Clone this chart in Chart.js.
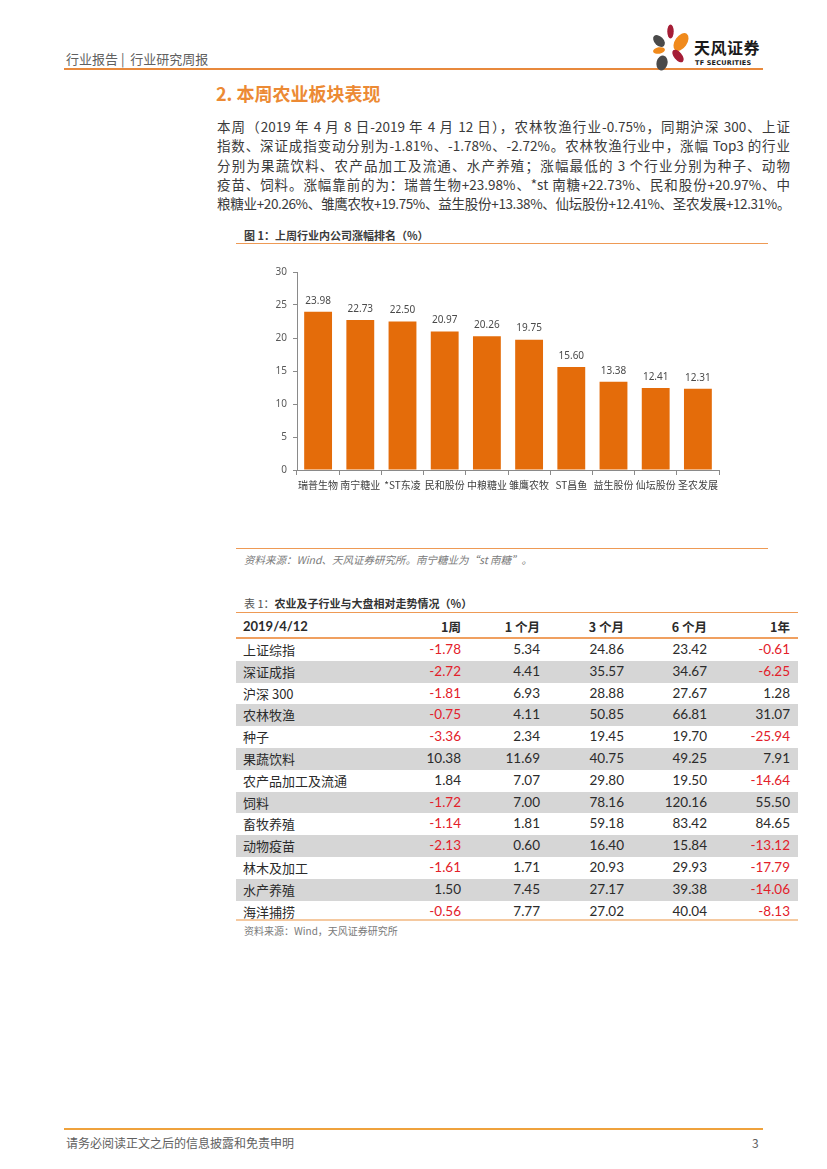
<!DOCTYPE html>
<html><head><meta charset="utf-8">
<script src="https://cdn.jsdelivr.net/npm/chart.js@4.4.1/dist/chart.umd.min.js"></script>
<style>
html,body{margin:0;padding:0;background:#fff;}
body{width:827px;height:1169px;position:relative;overflow:hidden;font-family:"Noto Sans CJK SC","Noto Sans",sans-serif;color:#404040;}
.abs{position:absolute;white-space:nowrap;}
.hline{position:absolute;height:0;}
.para div{width:573px;text-align:justify;text-align-last:justify;height:19.3px;line-height:19.3px;font-size:13.5px;color:#3a3a3a;white-space:nowrap;overflow:visible;}
table{border-collapse:collapse;position:absolute;left:236px;top:616px;width:562px;table-layout:fixed;}
td{height:21.8px;padding:0 8px 0 7px;font-size:13.5px;line-height:21.8px;font-family:Lato,"Noto Sans CJK SC",sans-serif;color:#2b2b2b;text-align:right;white-space:nowrap;}
td.n{text-align:left;font-family:"Noto Sans CJK SC",sans-serif;font-size:13px;}
tr.h td{font-weight:bold;height:21px;line-height:21px;border-bottom:2px solid #F0A060;}
tr.g td{background:#D6D6D6;}
td.neg{color:#E3202A;}
</style></head><body>

<!-- header -->
<div class="abs" style="left:66px;top:49px;font-size:13px;color:#606060;">行业报告&nbsp;|&nbsp;&nbsp;行业研究周报</div>
<div class="hline" style="left:64px;top:68px;width:699px;border-top:2px solid #E8893C;"></div>
<svg class="abs" style="left:648px;top:22px;" width="48" height="52" viewBox="0 0 48 52">
  <ellipse cx="22.5" cy="9.5" rx="3.2" ry="7" fill="#A51D36"/>
  <ellipse cx="33" cy="20" rx="6" ry="10" transform="rotate(35 33 20)" fill="#F08A1C"/>
  <ellipse cx="11" cy="19" rx="4.5" ry="7" transform="rotate(-45 11 19)" fill="#4A4A4A"/>
  <ellipse cx="11" cy="28.5" rx="6" ry="3.2" transform="rotate(-10 11 28.5)" fill="#F08A1C"/>
  <ellipse cx="30" cy="34" rx="4" ry="7.5" transform="rotate(-40 30 34)" fill="#A51D36"/>
  <ellipse cx="14" cy="41" rx="5.5" ry="7.5" transform="rotate(15 14 41)" fill="#4A4A4A"/>
</svg>
<div class="abs" style="left:694px;top:35px;font-size:16px;font-weight:bold;color:#1a1a1a;letter-spacing:0.5px;">天风证券</div>
<div class="abs" style="left:695px;top:59px;font-size:6.5px;font-weight:bold;color:#1a1a1a;font-family:'DejaVu Sans',sans-serif;letter-spacing:0.2px;">TF SECURITIES</div>

<!-- section title -->
<div class="abs" style="left:216px;top:80px;font-size:18px;font-weight:bold;color:#EC8A34;">2. 本周农业板块表现</div>

<div class="abs para" id="para" style="left:217px;top:117px;">
<div>本周（2019 年 4 月 8 日-2019 年 4 月 12 日），农林牧渔行业-0.75%，同期沪深 300、上证</div>
<div>指数、深证成指变动分别为-1.81%、-1.78%、-2.72%。农林牧渔行业中，涨幅 Top3 的行业</div>
<div>分别为果蔬饮料、农产品加工及流通、水产养殖；涨幅最低的 3 个行业分别为种子、动物</div>
<div>疫苗、饲料。涨幅靠前的为：瑞普生物+23.98%、*st 南糖+22.73%、民和股份+20.97%、中</div>
<div>粮糖业+20.26%、雏鹰农牧+19.75%、益生股份+13.38%、仙坛股份+12.41%、圣农发展+12.31%。</div>
</div>

<!-- figure caption -->
<div class="abs" style="left:244px;top:227px;font-size:11px;font-weight:bold;color:#3a3a3a;">图 1：上周行业内公司涨幅排名（%）</div>
<div class="hline" style="left:236px;top:243px;width:532px;border-top:1px solid #EE9A55;"></div>

<canvas id="c" width="532" height="250" style="position:absolute;left:236px;top:250px;"></canvas>

<div class="hline" style="left:236px;top:548px;width:532px;border-top:1px solid #EE9A55;"></div>
<div class="abs" style="left:244px;top:552px;font-size:10.5px;font-style:italic;color:#7a7a7a;">资料来源：Wind、天风证券研究所。南宁糖业为“st 南糖”。</div>

<div class="abs" style="left:244px;top:595px;font-size:11px;color:#555;">表 1：<b style="color:#333;">农业及子行业与大盘相对走势情况（%）</b></div>
<div class="hline" style="left:236px;top:612px;width:562px;border-top:1px solid #EE9A55;"></div>

<table id="t"><colgroup><col style="width:154px"><col style="width:79px"><col style="width:79px"><col style="width:84px"><col style="width:83px"><col style="width:83px"></colgroup><tbody></tbody></table>
<div class="hline" id="tb" style="left:236px;top:919px;width:562px;border-top:2px solid #F5C9A0;"></div>
<div class="abs" style="left:244px;top:923px;font-size:10px;color:#7a7a7a;">资料来源：Wind，天风证券研究所</div>

<!-- footer -->
<div class="hline" style="left:64px;top:1128px;width:699px;border-top:2px solid #EFA23C;"></div>
<div class="abs" style="left:66px;top:1134px;font-size:12px;color:#606060;">请务必阅读正文之后的信息披露和免责申明</div>
<div class="abs" style="left:752px;top:1134px;font-size:12px;color:#606060;">3</div>

<script>
// ---- chart data ----
const companies = ["瑞普生物","南宁糖业","*ST东凌","民和股份","中粮糖业","雏鹰农牧","ST昌鱼","益生股份","仙坛股份","圣农发展"];
const gains = [23.98, 22.73, 22.50, 20.97, 20.26, 19.75, 15.60, 13.38, 12.41, 12.31];
const yTicks = [0, 5, 10, 15, 20, 25, 30];

// ---- table data ----
const tableHeader = ["2019/4/12", "1周", "1 个月", "3 个月", "6 个月", "1年"];
const sectors = ["上证综指","深证成指","沪深 300","农林牧渔","种子","果蔬饮料","农产品加工及流通","饲料","畜牧养殖","动物疫苗","林木及加工","水产养殖","海洋捕捞"];
const week1  = [-1.78, -2.72, -1.81, -0.75, -3.36, 10.38, 1.84, -1.72, -1.14, -2.13, -1.61, 1.50, -0.56];
const month1 = [5.34, 4.41, 6.93, 4.11, 2.34, 11.69, 7.07, 7.00, 1.81, 0.60, 1.71, 7.45, 7.77];
const month3 = [24.86, 35.57, 28.88, 50.85, 19.45, 40.75, 29.80, 78.16, 59.18, 16.40, 20.93, 27.17, 27.02];
const month6 = [23.42, 34.67, 27.67, 66.81, 19.70, 49.25, 19.50, 120.16, 83.42, 15.84, 29.93, 39.38, 40.04];
const year1  = [-0.61, -6.25, 1.28, 31.07, -25.94, 7.91, -14.64, 55.50, 84.65, -13.12, -17.79, -14.06, -8.13];

// fit paragraph lines into the column width
document.querySelectorAll('#para div').forEach(d=>{
  let ls = 0;
  d.style.display='inline-block'; d.style.width='auto';
  while (d.scrollWidth > 572 && ls > -2) { ls -= 0.1; d.style.letterSpacing = ls + 'px'; }
  d.style.display='block'; d.style.width='573px';
});

// build table
const tb = document.querySelector('#t tbody');
const hr = document.createElement('tr'); hr.className = 'h';
tableHeader.forEach((h,i)=>{const td=document.createElement('td');td.textContent=h;if(i===0){td.className='n';td.style.fontFamily='Lato,sans-serif';td.style.fontSize='13px';}else{td.style.fontFamily='"Noto Sans CJK SC",sans-serif';td.style.fontSize='12.5px';}hr.appendChild(td);});
tb.appendChild(hr);
sectors.forEach((s,i)=>{
  const tr=document.createElement('tr'); if(i%2===1) tr.className='g';
  const td0=document.createElement('td'); td0.className='n'; td0.textContent=s; tr.appendChild(td0);
  [week1,month1,month3,month6,year1].forEach(col=>{
    const td=document.createElement('td'); const v=col[i];
    td.textContent=v.toFixed(2); if(v<0) td.className='neg'; tr.appendChild(td);
  });
  tb.appendChild(tr);
});

// chart
const labelPlugin = {
  id:'barLabels',
  afterDatasetsDraw(chart){
    const ctx=chart.ctx; const meta=chart.getDatasetMeta(0);
    ctx.save(); ctx.font='10px "Noto Sans", sans-serif'; ctx.fillStyle='#4a4a4a';
    ctx.textAlign='center'; ctx.textBaseline='middle';
    meta.data.forEach((bar,i)=>{ ctx.fillText(gains[i].toFixed(2), bar.x, bar.y-11); });
    ctx.restore();
  }
};
new Chart(document.getElementById('c'), {
  type:'bar',
  data:{labels:companies, datasets:[{data:gains, backgroundColor:'#E46C0A', borderWidth:0, barPercentage:0.66, categoryPercentage:1}]},
  options:{
    responsive:false, animation:false, devicePixelRatio:1,
    layout:{padding:{left:0,right:49,top:22,bottom:0}},
    plugins:{legend:{display:false}, tooltip:{enabled:false}},
    scales:{
      x:{
        grid:{display:true, drawOnChartArea:false, drawTicks:true, tickLength:5, color:'#8A8A8A', offset:true},
        border:{display:true, color:'#8A8A8A'},
        ticks:{color:'#404040', font:{size:10, family:'"Noto Sans CJK SC", sans-serif'}, maxRotation:0, minRotation:0, autoSkip:false, padding:4},
        afterFit(s){ s.height = 30; }
      },
      y:{
        min:0, max:30,
        afterBuildTicks(s){ s.ticks = yTicks.map(v=>({value:v})); },
        grid:{display:true, drawOnChartArea:false, drawTicks:true, tickLength:4, color:'#8A8A8A'},
        border:{display:true, color:'#8A8A8A'},
        ticks:{color:'#595959', font:{size:10, family:'"Noto Sans", sans-serif'}, padding:6},
        afterFit(s){ s.width = 61; }
      }
    }
  },
  plugins:[labelPlugin]
});
</script>
</body></html>
